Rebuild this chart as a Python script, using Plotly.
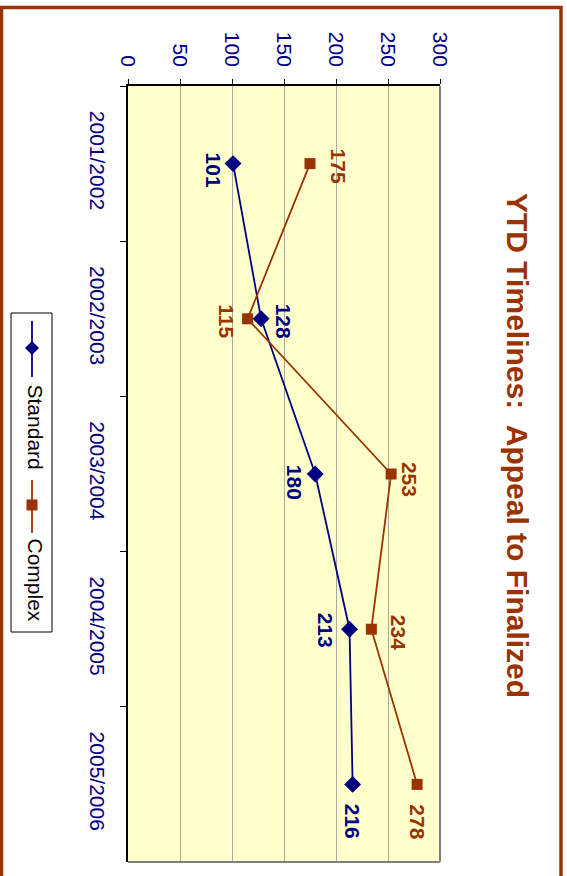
import plotly.graph_objects as go

# Data
seasons = ["2001/2002", "2002/2003", "2003/2004", "2004/2005", "2005/2006"]
standard = [101, 128, 180, 213, 216]
complex_ = [175, 115, 253, 234, 278]
value_ticks = [0, 50, 100, 150, 200, 250, 300]

NAVY = "#000080"
RUST = "#993300"
FONT = "Liberation Sans, Arial, sans-serif"

W, H = 567, 876
PX0, PX1, PY0, PY1 = 128, 440, 86, 862


def px(x):
    return (x - PX0) / (PX1 - PX0)


def py(y):
    return (PY1 - y) / (PY1 - PY0)


fig = go.Figure()

fig.add_trace(go.Scatter(
    x=standard, y=seasons, mode="lines+markers", name="Standard",
    line=dict(color=NAVY, width=1.8),
    marker=dict(symbol="diamond", size=13, color=NAVY),
))
fig.add_trace(go.Scatter(
    x=complex_, y=seasons, mode="lines+markers", name="Complex",
    line=dict(color=RUST, width=1.8),
    marker=dict(symbol="square", size=11, color=RUST),
))

annotations = []

# Value labels (shift in pixels from the marker)
std_shift = [(-20, 6), (22, 2), (-20, 8), (-24, 1), (0, 37)]
cpx_shift = [(28, 2), (-21, 2), (19, 5), (27, 3), (0, 37)]
for vals, shifts, col in ((standard, std_shift, NAVY), (complex_, cpx_shift, RUST)):
    for s, v, (dx, dy) in zip(seasons, vals, shifts):
        annotations.append(dict(
            x=v, y=s, xref="x", yref="y", text=str(v), showarrow=False,
            textangle=90, xshift=dx, yshift=-dy,
            font=dict(family=FONT, size=21, color=col, weight="bold"),
        ))

# Title
annotations.append(dict(
    x=px(518), y=py(445), xref="paper", yref="paper",
    text="YTD Timelines:\u00a0 Appeal to Finalized", showarrow=False,
    textangle=90, xanchor="center", yanchor="middle",
    font=dict(family=FONT, size=30, color=RUST, weight="bold"),
))

# Legend texts
annotations.append(dict(
    x=px(32), y=py(427), xref="paper", yref="paper", text="Standard",
    showarrow=False, textangle=90, xshift=-10,
    font=dict(family=FONT, size=21, color="black"),
))
annotations.append(dict(
    x=px(32), y=py(580), xref="paper", yref="paper", text="Complex",
    showarrow=False, textangle=90, xshift=-10,
    font=dict(family=FONT, size=21, color="black"),
))

shapes = [
    # outer frame
    dict(type="rect", xref="paper", yref="paper",
         x0=px(1.5), x1=px(561), y0=py(7.5), y1=py(920),
         line=dict(color=RUST, width=3.5), layer="above"),
    # plot area right/bottom edges
    dict(type="line", xref="paper", yref="paper", x0=1, x1=1, y0=0, y1=1,
         line=dict(color="#808080", width=2), layer="above"),
    dict(type="line", xref="paper", yref="paper", x0=0, x1=1, y0=0, y1=0,
         line=dict(color="#808080", width=2), layer="above"),
    # legend box
    dict(type="rect", xref="paper", yref="paper",
         x0=px(11), x1=px(52), y0=py(313), y1=py(632),
         line=dict(color="black", width=1), fillcolor="white"),
    # legend keys
    dict(type="line", xref="paper", yref="paper",
         x0=px(32), x1=px(32), y0=py(321), y1=py(377),
         line=dict(color=NAVY, width=1.8)),
    dict(type="path", xref="paper", yref="paper",
         path=f"M {px(32)},{py(341)} L {px(39)},{py(348)} L {px(32)},{py(355)} L {px(25)},{py(348)} Z",
         fillcolor=NAVY, line=dict(color=NAVY, width=0)),
    dict(type="line", xref="paper", yref="paper",
         x0=px(32), x1=px(32), y0=py(480), y1=py(533),
         line=dict(color=RUST, width=1.8)),
    dict(type="rect", xref="paper", yref="paper",
         x0=px(26.5), x1=px(37.5), y0=py(499.5), y1=py(510.5),
         fillcolor=RUST, line=dict(color=RUST, width=0)),
]

fig.update_layout(
    width=W, height=H,
    margin=dict(l=PX0, r=W - PX1, t=PY0, b=H - PY1, pad=0),
    paper_bgcolor="white", plot_bgcolor="#FFFFCC",
    showlegend=False,
    font=dict(family=FONT, size=21, color=NAVY),
    annotations=annotations, shapes=shapes,
    xaxis=dict(
        side="top", range=[0, 300], tickvals=value_ticks,
        tickangle=90, showgrid=True, gridcolor="#A8A8A0", gridwidth=1,
        showline=True, linecolor="black", linewidth=1.5,
        ticks="outside", ticklen=5, tickcolor="black",
        ticklabelstandoff=5, zeroline=False,
        tickfont=dict(family=FONT, size=21, color=NAVY),
    ),
    yaxis=dict(
        type="category", categoryorder="array", categoryarray=seasons,
        range=[4.5, -0.5], tickson="boundaries", tickangle=90,
        showgrid=False, showline=True, linecolor="black", linewidth=1.5,
        ticks="outside", ticklen=6, tickcolor="black",
        ticklabelstandoff=11,
        tickfont=dict(family=FONT, size=21, color=NAVY),
    ),
)

fig.write_html("out.html")
